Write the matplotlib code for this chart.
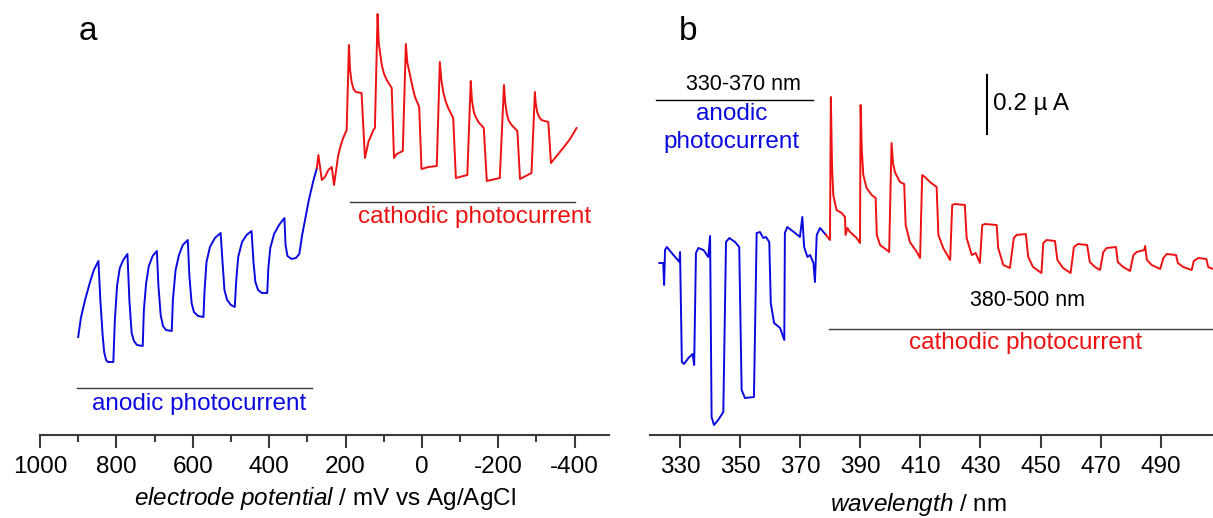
import matplotlib.pyplot as plt

# fonts (Arial look-alike, italic parts through mathtext)
plt.rcParams['font.family'] = ['Liberation Sans', 'DejaVu Sans']
plt.rcParams['mathtext.fontset'] = 'custom'
plt.rcParams['mathtext.it'] = 'Liberation Sans:italic'
plt.rcParams['mathtext.rm'] = 'Liberation Sans'
plt.rcParams['axes.unicode_minus'] = False

BLUE = '#0a0ae0'
RED = '#ee1111'
GREY = '#3a3a3a'

# ---- panel a : photocurrent vs electrode potential (mV), current in a.u.
a_anodic_mv = [900, 893, 882, 869, 859, 847,
               842, 836, 832, 827, 822, 808,
               804, 798, 791, 782, 771,
               766, 760, 754, 746, 731,
               728, 722, 715, 705, 694,
               690, 684, 678, 670, 655,
               652, 645, 636, 626, 613,
               609, 603, 597, 586, 572,
               569, 564, 555, 542, 527,
               522, 517, 510, 500, 490,
               486, 481, 471, 459, 446,
               441, 436, 429, 419, 405,
               402, 397, 387, 374, 360,
               357, 352, 341, 330, 321,
               314, 306, 296, 285, 275]
a_anodic_i = [98, 117, 135, 153, 165, 174,
              135, 100, 83, 75, 73, 73,
              115, 150, 167, 175, 181,
              135, 102, 94, 90, 89,
              125, 152, 169, 179, 184,
              150, 120, 109, 105, 104,
              135, 165, 180, 190, 195,
              160, 132, 123, 119, 118,
              145, 173, 188, 197, 202,
              173, 145, 135, 130, 128,
              155, 178, 193, 200, 204,
              173, 153, 145, 142, 142,
              167, 187, 201, 210, 217,
              190, 179, 176, 177, 181,
              199, 215, 235, 253, 267]

a_cathodic_mv = [275, 271, 262, 254, 245, 236, 230, 219, 212, 206, 197,
                 191, 188, 184, 179, 173, 158,
                 149, 140, 127, 123,
                 116, 113, 105, 99, 92, 79,
                 73, 66, 50,
                 42, 38, 31, 24, 18, 7,
                 1, -17, -39,
                 -47, -51, -56, -62, -69, -82,
                 -89, -119,
                 -128, -131, -136, -141, -148, -162,
                 -170, -204,
                 -215, -218, -223, -228, -235, -250,
                 -257, -287,
                 -296, -298, -302, -307, -313, -331,
                 -338, -355, -370, -388, -405]
a_cathodic_i = [267, 280, 255, 258, 265, 268, 250, 280, 290, 297, 305,
                390, 365, 353, 346, 343, 342,
                277, 293, 305, 307,
                421, 392, 370, 361, 355, 347,
                277, 281, 284,
                391, 372, 360, 347, 338, 328,
                266, 268, 269,
                373, 355, 343, 334, 327, 317,
                257, 260,
                354, 335, 323, 318, 313, 307,
                254, 257,
                350, 333, 320, 314, 310, 304,
                256, 262,
                343, 332, 323, 318, 315, 313,
                272, 280, 287, 296, 307]

# ---- panel b : photocurrent vs wavelength (nm), current in a.u. (59 a.u. = 0.2 uA)
b_anodic_nm = [323.1, 324.4, 324.7, 325.0, 325.6, 327.8, 329.8, 330.0, 330.6,
               331.3, 332.8, 334.2, 334.7, 335.3, 336.1, 337.8, 339.4, 340.0,
               340.5, 341.3, 342.7, 344.4, 345.3, 346.4, 348.3, 349.7, 350.5,
               351.6, 354.6, 355.5, 356.6, 357.7, 358.6, 359.7, 360.2, 361.3,
               363.3, 364.7, 364.9, 365.7, 368.3, 369.9, 370.7, 371.3, 372.4,
               373.3, 374.4, 374.9, 375.5, 376.6, 378.6]
b_anodic_i = [172, 172, 150, 185, 188, 180, 173, 183, 73, 71, 77, 81, 70, 182,
              187, 185, 178, 199, 18, 10, 15, 23, 193, 197, 193, 188, 45, 37, 38,
              202, 203, 197, 198, 193, 132, 112, 107, 95, 202, 208, 202, 198, 218,
              188, 178, 180, 172, 153, 200, 207, 200]

b_cathodic_nm = [378.6, 379.9, 380.2, 380.6, 381.0, 382.1, 383.8, 384.9, 385.1,
                 385.7, 386.6, 388.8, 389.9, 390.1, 390.5, 391.0, 392.1, 393.8,
                 395.1, 395.5, 396.6, 398.8, 399.6, 400.4, 400.9, 401.5, 403.2,
                 404.6, 405.1, 406.5, 408.8, 409.9, 410.6, 411.5, 413.2, 415.4,
                 416.0, 417.6, 419.9, 420.6, 421.5, 424.8, 425.4, 427.1, 428.4,
                 429.8, 430.6, 431.5, 435.4, 435.9, 437.6, 439.8, 441.1, 442.0,
                 445.1, 445.9, 447.5, 450.3, 450.9, 452.0, 454.8, 455.6, 457.5,
                 460.0, 461.1, 462.5, 465.5, 466.4, 468.1, 469.8, 470.9, 472.0,
                 475.1, 475.7, 477.5, 479.8, 480.9, 482.0, 484.5, 484.8, 485.4,
                 487.0, 489.8, 490.9, 492.0, 495.1, 495.7, 497.5, 500.3, 501.0,
                 502.5, 505.2, 505.8, 507.4]
b_cathodic_i = [200, 195, 338, 268, 240, 225, 222, 218, 200, 207, 203, 197, 192,
                330, 285, 260, 247, 240, 237, 200, 190, 185, 183, 292, 272, 263,
                253, 251, 210, 193, 183, 177, 260, 258, 253, 248, 200, 187, 175,
                230, 231, 230, 197, 180, 182, 172, 210, 211, 210, 187, 170, 167,
                197, 200, 201, 178, 168, 162, 192, 195, 194, 175, 167, 162, 188,
                191, 190, 173, 168, 165, 183, 187, 188, 173, 168, 164, 180, 183,
                185, 189, 175, 170, 166, 177, 181, 180, 172, 168, 165, 174, 177,
                176, 168, 166]

a_ticks = [1000, 800, 600, 400, 200, 0, -200, -400]
a_minor = [900, 700, 500, 300, 100, -100, -300]
b_ticks = [330, 350, 370, 390, 410, 430, 450, 470, 490]

fig = plt.figure(figsize=(12.13, 5.18), dpi=100)
ax_a = fig.add_axes([40 / 1213, 83 / 518, 569 / 1213, 435 / 518])
ax_b = fig.add_axes([650 / 1213, 83 / 518, 563 / 1213, 435 / 518])

for ax in (ax_a, ax_b):
    for s in ('left', 'right', 'top'):
        ax.spines[s].set_visible(False)
    ax.spines['bottom'].set_color(GREY)
    ax.spines['bottom'].set_linewidth(1.5)
    ax.set_yticks([])
    ax.set_ylim(0, 435)
    ax.tick_params(axis='x', which='major', length=9, width=1.5, color=GREY,
                   labelsize=17.5, pad=6)
    ax.tick_params(axis='x', which='minor', length=5, width=1.5, color=GREY)
    ax.patch.set_alpha(0)

# panel a
ax_a.plot(a_anodic_mv, a_anodic_i, color=BLUE, lw=1.4, solid_joinstyle='round')
ax_a.plot(a_cathodic_mv, a_cathodic_i, color=RED, lw=1.4, solid_joinstyle='round')
ax_a.set_xlim(1000, -490)
ax_a.set_xticks(a_ticks)
ax_a.set_xticks(a_minor, minor=True)
ax_a.set_xlabel(r'$\mathit{electrode\ potential}$ / mV vs Ag/AgCl', fontsize=17.5)
ax_a.xaxis.set_label_coords(0.5, -0.115)
ax_a.text(874, 403, 'a', fontsize=24, ha='center', va='center')
ax_a.plot([188, -401], [233, 233], color=GREY, lw=1)
ax_a.text(-139, 218, 'cathodic photocurrent', color=RED, fontsize=17.5,
          ha='center', va='center')
ax_a.plot([903, 288], [47, 47], color=GREY, lw=1)
ax_a.text(584, 31, 'anodic photocurrent', color=BLUE, fontsize=17.5,
          ha='center', va='center')

# panel b
ax_b.plot(b_anodic_nm, b_anodic_i, color=BLUE, lw=1.4, solid_joinstyle='round')
ax_b.plot(b_cathodic_nm, b_cathodic_i, color=RED, lw=1.4, solid_joinstyle='round')
ax_b.set_xlim(320, 507.4)
ax_b.set_xticks(b_ticks)
ax_b.set_xlabel(r'$\mathit{wavelength}$ / nm', fontsize=17.5)
ax_b.xaxis.set_label_coords(0.476, -0.128)
ax_b.text(332.7, 403, 'b', fontsize=24, ha='center', va='center')
ax_b.text(351.0, 350, '330-370 nm', fontsize=15.5, ha='center', va='center')
ax_b.plot([322.0, 374.3], [335, 335], color='black', lw=1)
ax_b.text(347.1, 321, 'anodic', color=BLUE, fontsize=17.5, ha='center', va='center')
ax_b.text(347.0, 293, 'photocurrent', color=BLUE, fontsize=17.5, ha='center', va='center')
ax_b.plot([432.1, 432.1], [301, 360], color='black', lw=1.5)
ax_b.text(434.2, 331, '0.2 µ A', fontsize=17.5, ha='left', va='center')
ax_b.text(445.5, 134, '380-500 nm', fontsize=15.5, ha='center', va='center')
ax_b.plot([379.6, 507.4], [106, 106], color=GREY, lw=1)
ax_b.text(445.1, 92, 'cathodic photocurrent', color=RED, fontsize=17.5,
          ha='center', va='center')

fig.savefig('out.png', dpi=100)
